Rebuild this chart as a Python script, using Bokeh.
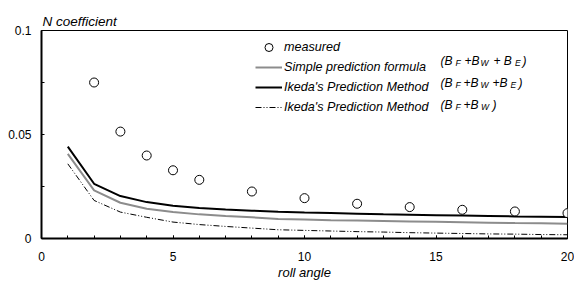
from bokeh.plotting import figure
from bokeh.models import (FixedTicker, CustomJSTickFormatter, Legend, LegendItem,
                          Label, Range1d, Title)
from bokeh.embed import file_html
from bokeh.resources import INLINE

# ---- data ----
meas_x = [2, 3, 4, 5, 6, 8, 10, 12, 14, 16, 18, 20]
meas_y = [0.0750, 0.0514, 0.0399, 0.0328, 0.0282, 0.0226, 0.0194, 0.0167, 0.0151, 0.0138, 0.0130, 0.0122]

line_x = list(range(1, 21))
simple_y = [0.0407, 0.0231, 0.0172, 0.0143, 0.0127, 0.0116, 0.0108, 0.0102, 0.0094, 0.0091,
            0.0088, 0.0086, 0.0084, 0.0082, 0.0080, 0.0078, 0.0076, 0.0074, 0.0073, 0.0071]
ikeda_full_y = [0.0442, 0.0263, 0.0204, 0.0175, 0.0157, 0.0147, 0.0140, 0.0134, 0.0129, 0.0125,
                0.0122, 0.0119, 0.0116, 0.0114, 0.0112, 0.0110, 0.0108, 0.0106, 0.0105, 0.0103]
ikeda_fw_y = [0.0359, 0.0183, 0.0127, 0.0102, 0.0079, 0.0067, 0.0058, 0.0050, 0.0042, 0.0039,
              0.0036, 0.0033, 0.0031, 0.0028, 0.0026, 0.0024, 0.0022, 0.0021, 0.0019, 0.0018]

x_ticks = [0, 5, 10, 15, 20]
x_minor = list(range(0, 21))
y_ticks = [0, 0.05, 0.1]
y_minor = [0.025, 0.075]

labels = ["measured", "Simple prediction formula", "Ikeda's Prediction Method", "Ikeda's Prediction Method"]

FONT = "Liberation Sans"

p = figure(width=574, height=282, output_backend="svg", toolbar_location=None,
           x_range=Range1d(0, 20), y_range=Range1d(0, 0.1),
           min_border_left=41, min_border_right=7, min_border_top=30, min_border_bottom=44)
p.grid.visible = False
p.background_fill_color = "white"
p.border_fill_color = "white"
p.outline_line_color = "black"
p.outline_line_width = 1

p.title = Title(text="N coefficient", align="left", offset=1, standoff=4,
                text_font=FONT, text_font_style="italic", text_font_size="13.5px",
                text_color="black")

r_simple = p.line(line_x, simple_y, line_color="#8c8c8c", line_width=2)
r_ikeda = p.line(line_x, ikeda_full_y, line_color="black", line_width=2)
r_fw = p.line(line_x, ikeda_fw_y, line_color="black", line_width=1, line_dash="6 2 1 2 1 2")
r_meas = p.scatter(meas_x, meas_y, marker="circle", size=9, fill_color="white",
                   line_color="black", line_width=1)

for ax in (p.xaxis[0], p.yaxis[0]):
    ax.axis_line_width = 2
    ax.axis_line_color = "black"
    ax.major_tick_in = 3
    ax.major_tick_out = 0
    ax.minor_tick_in = 3
    ax.minor_tick_out = 0
    ax.major_tick_line_color = "black"
    ax.minor_tick_line_color = "black"
    ax.major_label_text_font = FONT
    ax.major_label_text_font_size = "12px"
    ax.major_label_text_color = "black"

p.xaxis.ticker = FixedTicker(ticks=x_ticks, minor_ticks=x_minor)
p.yaxis.ticker = FixedTicker(ticks=y_ticks, minor_ticks=y_minor)
p.yaxis.formatter = CustomJSTickFormatter(code="return tick.toString();")
p.xaxis.formatter = CustomJSTickFormatter(code="return tick.toString();")
p.xaxis.major_label_standoff = 13
p.yaxis.major_label_standoff = 10

p.xaxis.axis_label = "roll angle"
p.xaxis.axis_label_text_font = FONT
p.xaxis.axis_label_text_font_style = "italic"
p.xaxis.axis_label_text_font_size = "13px"
p.xaxis.axis_label_standoff = 1
p.xaxis.axis_label_text_color = "black"

legend = Legend(items=[LegendItem(label=labels[0], renderers=[r_meas]),
                       LegendItem(label=labels[1], renderers=[r_simple]),
                       LegendItem(label=labels[2], renderers=[r_ikeda]),
                       LegendItem(label=labels[3], renderers=[r_fw])],
                location=(214, 121), padding=0, margin=0, spacing=0,
                glyph_width=27, glyph_height=20, label_height=20, label_standoff=2,
                border_line_alpha=0, background_fill_alpha=0,
                label_text_font=FONT, label_text_font_style="italic",
                label_text_font_size="12.6px", label_text_color="black")
p.add_layout(legend)

# parenthetical component notes with subscripts (page coordinates -> frame coords)
FL, FB = 41, 238
notes = [
    (60, [("(B", 440, False), ("F", 455, True), ("+B", 464, False), ("W", 480, True),
          ("+ B", 493, False), ("E", 514.5, True), (")", 522, False)]),
    (82, [("(B", 440, False), ("F", 455, True), ("+B", 463, False), ("W", 480, True),
          ("+B", 492, False), ("E", 510, True), (")", 518, False)]),
    (104.5, [("(B", 440, False), ("F", 455, True), ("+B", 463, False), ("W", 480.5, True),
             (")", 492, False)]),
]
for base, parts in notes:
    for txt, px, sub in parts:
        p.add_layout(Label(x=px - FL, y=FB - (base + (2 if sub else 0)),
                           x_units="screen", y_units="screen", text=txt,
                           text_font=FONT, text_font_style="italic",
                           text_font_size="8.5px" if sub else "12px",
                           text_baseline="alphabetic", text_align="left",
                           text_color="black"))

open("out.html", "w").write(file_html(p, INLINE))
